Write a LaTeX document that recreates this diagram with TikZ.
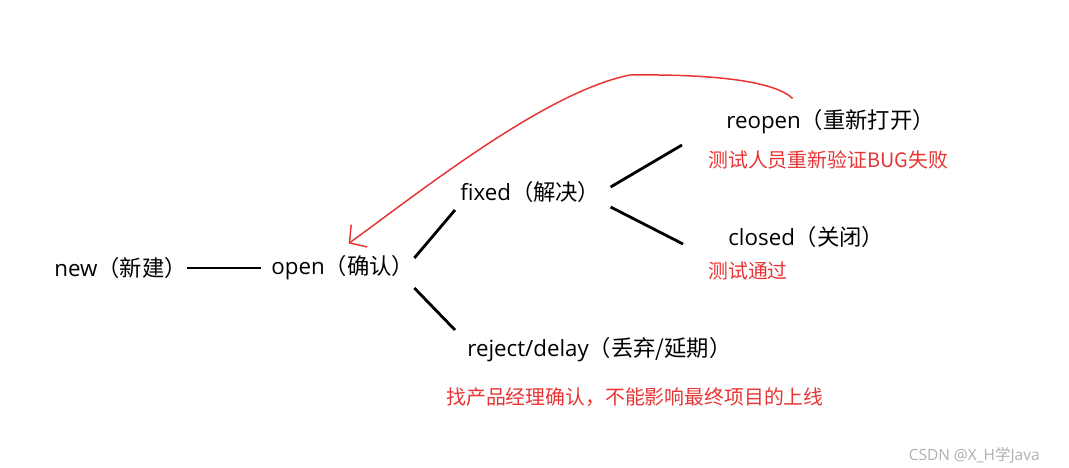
\documentclass[tikz,border=0pt]{standalone}
\usepackage{fontspec}
\setmainfont{Open Sans}
\newfontfamily\cjk{Noto Sans CJK SC}
\usetikzlibrary{arrows.meta}
\definecolor{notered}{RGB}{232,52,52}
\definecolor{markgray}{RGB}{175,175,175}

\begin{document}
\begin{tikzpicture}[
  state/.style={anchor=west,inner sep=0pt,font=\fontsize{12.7}{15}\selectfont},
  note/.style={anchor=west,inner sep=0pt,text=notered,font=\cjk\fontsize{11.3}{13}\selectfont},
  link/.style={line width=1.6pt},
  back/.style={draw=notered,line width=0.85pt,-{Straight Barb[length=2.4mm,width=5.5mm]}}
]
\useasboundingbox (0,0) rectangle (21.38,9.34);

% States
\node[state] (new) at (1.08,3.98) {new{\cjk （新建）}};
\node[state] (open) at (5.42,3.98) {open{\cjk （确认）}};
\node[state] (fixed) at (9.20,5.50) {fixed{\cjk （解决）}};
\node[state] (reopen) at (14.52,6.90) {reopen{\cjk （重新打开）}};
\node[state] (closed) at (14.56,4.60) {closed{\cjk （关闭）}};
\node[state] (reject) at (9.34,2.34) {reject/delay{\cjk （丢弃/延期）}};

% Notes
\node[note] (reopennote) at (14.16,6.14) {测试人员重新验证BUG失败};
\node[note] (closednote) at (14.16,3.92) {测试通过};
\node[note] (rejectnote) at (8.92,1.40) {找产品经理确认，不能影响最终项目的上线};

% Links
\draw[link] (new.east) -- ([xshift=-2mm]open.west);
\draw[link] ([yshift=2mm]open.east) -- ([xshift=-1mm,yshift=-3.6mm]fixed.west);
\draw[link] ([yshift=-4mm]open.east) -- ([xshift=-2.4mm,yshift=4mm]reject.west);
\draw[link] ([xshift=2mm,yshift=1mm]fixed.east) -- ([xshift=-8.8mm,yshift=-4.6mm]reopen.west);
\draw[link] ([xshift=2mm,yshift=-3mm]fixed.east) -- ([xshift=-9mm,yshift=-1.4mm]closed.west);

% Back to open
\coordinate (backstart) at ([xshift=-7.6mm,yshift=2.2mm]reopen.north);
\coordinate (backend) at ([xshift=1.2mm,yshift=2.4mm]open.north);
\draw[back] (backstart) .. controls (15.5,7.7) and (14.4,7.86) .. (12.6,7.84)
  .. controls (10.9,7.5) and (8.4,5.5) .. (backend);

% Watermark
\node[anchor=east,inner sep=0pt,text=markgray,font=\fontsize{8.8}{10}\selectfont] (mark) at (20.80,0.24) {CSDN @X\_H{\cjk 学}Java};

\end{tikzpicture}
\end{document}
